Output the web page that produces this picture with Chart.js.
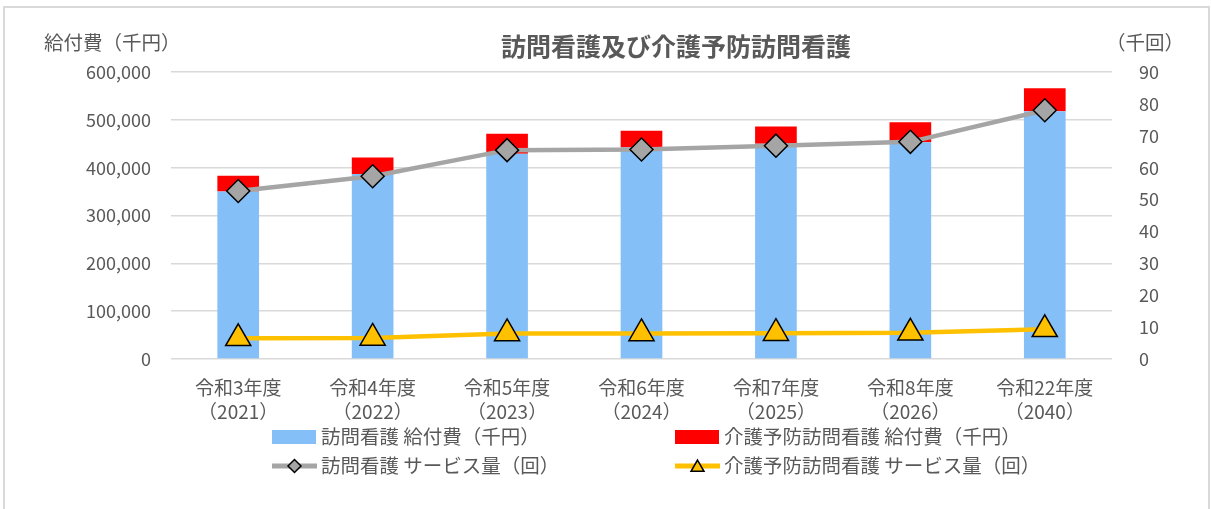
<!DOCTYPE html>
<html>
<head>
<meta charset="utf-8">
<script src="https://cdn.jsdelivr.net/npm/chart.js@4.4.0/dist/chart.umd.min.js"></script>
<style>
  body { margin: 0; background: #fff; }
  canvas { display: block; }
</style>
</head>
<body>
<canvas id="kangoChart" width="1211" height="509"></canvas>
<script>
const categories = [
    ['令和3年度', '（2021）'], ['令和4年度', '（2022）'], ['令和5年度', '（2023）'],
    ['令和6年度', '（2024）'], ['令和7年度', '（2025）'], ['令和8年度', '（2026）'],
    ['令和22年度', '（2040）']
];
// 給付費（千円）
const homonKyufu = [350000, 387000, 429000, 442000, 450000, 453000, 518000];
const yoboKyufu = [33000, 34000, 42000, 35000, 36000, 42000, 48000];
// サービス量（千回）
const homonService = [52.7, 57.3, 65.5, 65.7, 66.9, 68.1, 78.0];
const yoboService = [6.5, 6.6, 8.0, 8.0, 8.1, 8.2, 9.3];

const FONT = "'Noto Sans CJK JP', 'Noto Sans', sans-serif";
const GREY_TEXT = '#595959';

// タイトル・軸タイトル・枠・凡例を描く
const decorPlugin = {
    id: 'decor',
    beforeDraw(chart) {
        const c = chart.ctx;
        c.save();
        c.fillStyle = '#fff';
        c.fillRect(0, 0, chart.width, chart.height);
        c.strokeStyle = '#d9d9d9';
        c.lineWidth = 2;
        c.strokeRect(4, 7, 1205, 530);
        c.restore();
    },
    afterDraw(chart) {
        const c = chart.ctx;
        c.save();
        c.fillStyle = GREY_TEXT;
        c.textBaseline = 'middle';
        c.font = 'bold 25px ' + FONT;
        c.textAlign = 'center';
        c.fillText('訪問看護及び介護予防訪問看護', 676, 46);
        c.font = '19.5px ' + FONT;
        c.textAlign = 'left';
        c.fillText('給付費（千円）', 44, 43);
        c.fillText('（千回）', 1106, 43);

        // 凡例（2行2列）
        const ds = chart.data.datasets;
        const slots = [[272, 437], [675, 437], [272, 466], [675, 466]];
        c.font = '19.5px ' + FONT;
        ds.forEach(function (d, i) {
            const x = slots[i][0], y = slots[i][1];
            if (d.type === 'line') {
                c.strokeStyle = d.borderColor;
                c.lineWidth = 5;
                c.beginPath();
                c.moveTo(x, y);
                c.lineTo(x + 45, y);
                c.stroke();
                c.fillStyle = d.pointBackgroundColor;
                c.strokeStyle = '#000';
                c.lineWidth = 1.5;
                const tri = d.pointStyle === 'triangle';
                Chart.helpers.drawPoint(c, {
                    pointStyle: d.pointStyle, radius: tri ? 7.5 : 6.5,
                    borderWidth: 1.5, rotation: 0
                }, x + 22.5, y + (tri ? 1.5 : 0));
            } else {
                c.fillStyle = d.backgroundColor;
                c.fillRect(x, y - 7, 44, 14);
            }
            c.fillStyle = GREY_TEXT;
            c.fillText(d.label, x + 49, y);
        });
        c.restore();
    }
};

new Chart(document.getElementById('kangoChart').getContext('2d'), {
    data: {
        labels: categories,
        datasets: [
            {
                type: 'bar', label: '訪問看護 給付費（千円）', data: homonKyufu,
                yAxisID: 'y', order: 2, stack: 'kyufu',
                backgroundColor: '#85bff8',
                barPercentage: 0.31, categoryPercentage: 1
            },
            {
                type: 'bar', label: '介護予防訪問看護 給付費（千円）', data: yoboKyufu,
                yAxisID: 'y', order: 3, stack: 'kyufu',
                backgroundColor: '#ff0000',
                barPercentage: 0.31, categoryPercentage: 1
            },
            {
                type: 'line', label: '訪問看護 サービス量（回）', data: homonService,
                yAxisID: 'y1', order: 1,
                borderColor: '#a5a5a5', borderWidth: 4.5,
                pointStyle: 'rectRot', pointRadius: 11.5,
                pointBackgroundColor: '#a5a5a5', pointBorderColor: '#000', pointBorderWidth: 1.5
            },
            {
                type: 'line', label: '介護予防訪問看護 サービス量（回）', data: yoboService,
                yAxisID: 'y1', order: 0,
                borderColor: '#ffc000', borderWidth: 4.5,
                pointStyle: 'triangle', pointRadius: 14.5,
                pointBackgroundColor: '#ffc000', pointBorderColor: '#000', pointBorderWidth: 1.5
            }
        ]
    },
    options: {
        responsive: false,
        animation: false,
        layout: { padding: { top: 72, bottom: 88, left: 0, right: 0 } },
        plugins: {
            legend: { display: false },
            title: { display: false },
            tooltip: { enabled: false }
        },
        scales: {
            x: {
                stacked: true,
                grid: { display: false },
                border: { display: false },
                ticks: {
                    color: GREY_TEXT, font: { family: FONT, size: 19, lineHeight: 1.3 },
                    padding: 8, maxRotation: 0, autoSkip: false
                },
                afterFit: function (s) { s.height = 62; }
            },
            y: {
                stacked: true,
                position: 'left',
                min: 0, max: 600000,
                grid: { color: '#d9d9d9', lineWidth: 1.5, drawTicks: false },
                border: { display: false },
                ticks: {
                    stepSize: 100000, padding: 20, color: GREY_TEXT,
                    font: { family: FONT, size: 18 },
                    callback: function (v) { return v.toLocaleString('en-US'); }
                },
                afterFit: function (s) { s.width = 171; }
            },
            y1: {
                position: 'right',
                min: 0, max: 90,
                grid: { display: false },
                border: { display: false },
                ticks: {
                    stepSize: 10, padding: 19, color: GREY_TEXT,
                    font: { family: FONT, size: 18 }
                },
                afterFit: function (s) { s.width = 99; }
            }
        }
    },
    plugins: [decorPlugin]
});
</script>
</body>
</html>
